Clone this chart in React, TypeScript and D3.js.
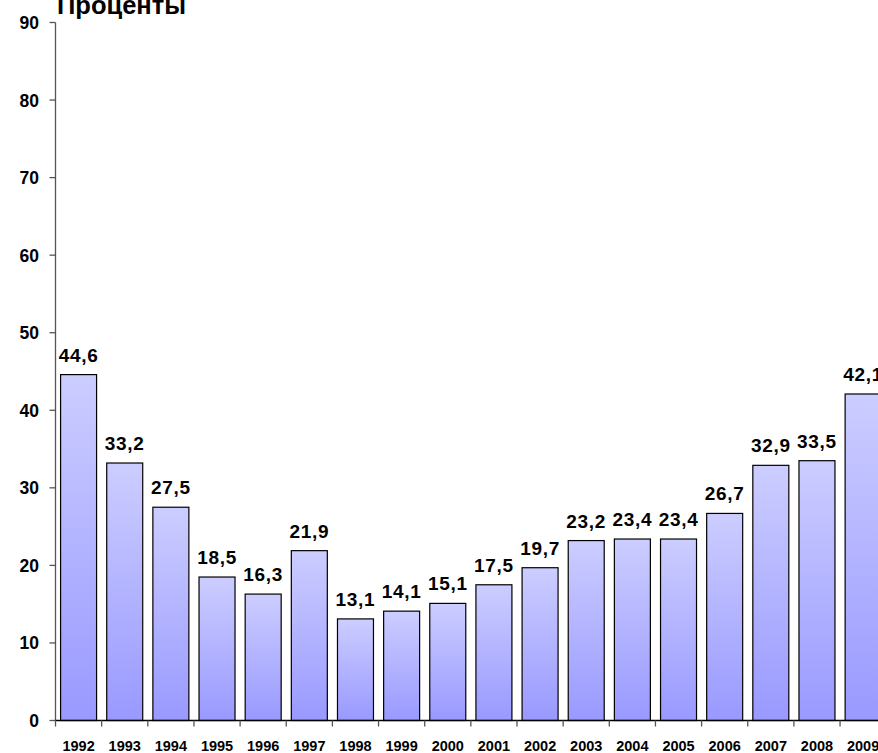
import React from "react";
import * as d3 from "d3";

const years = [
  "1992", "1993", "1994", "1995", "1996", "1997", "1998", "1999", "2000",
  "2001", "2002", "2003", "2004", "2005", "2006", "2007", "2008", "2009",
];
const values = [
  44.6, 33.2, 27.5, 18.5, 16.3, 21.9, 13.1, 14.1, 15.1,
  17.5, 19.7, 23.2, 23.4, 23.4, 26.7, 32.9, 33.5, 42.1,
];
const yTicks = [0, 10, 20, 30, 40, 50, 60, 70, 80, 90];
const title = "Проценты";

const W = 878;
const H = 753;
const left = 55.5;
const top = 22.5;
const bottom = 720.5;
const step = 46.15;
const font = "'Liberation Sans', Arial, sans-serif";

export default function App() {
  const x = d3
    .scaleBand<string>()
    .domain(years)
    .range([left, left + step * years.length])
    .paddingInner(0.22)
    .paddingOuter(0.11);
  const y = d3.scaleLinear().domain([0, 90]).range([bottom, top]);
  const fmt = (v: number) => v.toFixed(1).replace(".", ",");

  return (
    <svg
      width={W}
      height={H}
      style={{ position: "absolute", left: 0, top: 0, overflow: "hidden" }}
      fontFamily={font}
    >
      <defs>
        <linearGradient id="barFill" x1="0" y1="0" x2="0" y2="1">
          <stop offset="0%" stopColor="#cccdff" />
          <stop offset="100%" stopColor="#9999ff" />
        </linearGradient>
      </defs>
      <rect width={W} height={H} fill="#fff" />

      <text x={57} y={14} fontSize={25.5} fontWeight="bold" fill="#000">
        {title}
      </text>

      {years.map((yr, i) => {
        const bx = x(yr)!;
        const bw = x.bandwidth();
        const by = y(values[i]);
        return (
          <g key={yr}>
            <rect
              x={bx}
              y={by}
              width={bw}
              height={bottom - by}
              fill="url(#barFill)"
              stroke="#000"
              strokeWidth={1.2}
            />
            <text
              x={bx + bw / 2}
              y={by - 13}
              textAnchor="middle"
              fontSize={19}
              fontWeight="bold"
              letterSpacing={0.7}
              fill="#000"
            >
              {fmt(values[i])}
            </text>
            <text
              x={bx + bw / 2}
              y={750.5}
              textAnchor="middle"
              fontSize={14.5}
              fontWeight="bold"
              fill="#000"
            >
              {yr}
            </text>
          </g>
        );
      })}

      {/* y axis */}
      <line x1={left} x2={left} y1={top} y2={bottom} stroke="#555" strokeWidth={1.3} />
      {yTicks.map((t) => (
        <g key={t}>
          <line x1={left - 6} x2={left} y1={y(t)} y2={y(t)} stroke="#555" strokeWidth={1.3} />
          <text
            x={39}
            y={y(t) + 6.5}
            textAnchor="end"
            fontSize={17.5}
            fontWeight="bold"
            fill="#000"
          >
            {t}
          </text>
        </g>
      ))}

      {/* x axis */}
      <line x1={left} x2={W + 20} y1={bottom} y2={bottom} stroke="#000" strokeWidth={1.3} />
      {d3.range(years.length + 1).map((i) => {
        const tx = left + i * step;
        return (
          <line key={i} x1={tx} x2={tx} y1={bottom} y2={bottom + 6} stroke="#555" strokeWidth={1.3} />
        );
      })}
    </svg>
  );
}
